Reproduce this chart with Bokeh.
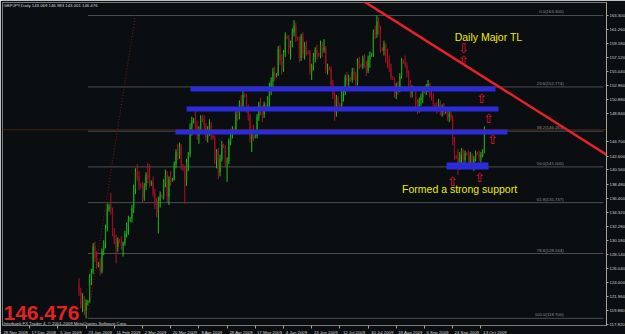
from bokeh.plotting import figure
from bokeh.models import (ColumnDataSource, Range1d, LinearAxis, FixedTicker, Label,
                          PrintfTickFormatter, Span)
from bokeh.embed import file_html
from bokeh.resources import INLINE
from bokeh.core.properties import value

# ---------------- data (GBPJPY daily, bar index 0 = 28 Nov 2008) ----------------
FIRST_BAR = 44
opens = [
    123.8, 122.6, 120.8, 121.6, 119.8,
    121.0, 121.2, 124.8, 125.5, 129.3, 127.6,
    126.6, 126.8, 125.6, 128.7, 129.8, 132.0,
    134.8, 135.2, 134.6, 131.2, 130.4, 129.2,
    130.2, 130.0, 129.4, 129.8, 131.2, 132.4,
    133.2, 133.4, 134.9, 137.8, 140.2, 139.6,
    138.2, 138.0, 136.4, 138.2, 139.8, 139.2,
    138.6, 138.8, 137.0, 135.4, 134.2, 136.0,
    136.8, 136.6, 138.6, 139.8, 136.6, 139.2,
    139.0, 139.2, 141.4, 143.2, 142.6, 144.0,
    141.2, 140.6, 138.8, 141.6, 142.8, 146.8,
    147.8, 148.0, 147.2, 145.6, 146.6,
    148.2, 148.0, 147.0, 145.4, 146.4, 147.2,
    145.6, 145.2, 142.0, 143.2, 140.2, 142.2,
    144.2, 144.0, 141.6, 141.8, 144.8, 145.8,
    146.6, 146.4, 148.8, 148.4, 150.4, 150.0,
    151.6, 151.4, 149.6, 148.4, 145.2, 146.0,
    145.4, 145.6, 148.4, 150.2, 149.4, 148.8,
    150.2, 150.0, 151.0, 152.8, 153.6, 155.0,
    154.4, 154.6, 158.4, 156.6, 155.4, 157.8,
    160.2, 160.0, 158.4, 159.2, 160.8, 161.8,
    160.0, 159.8, 157.0, 160.2, 157.6, 158.8,
    158.0, 157.8, 155.0, 155.8, 157.2, 158.2,
    157.6, 157.4, 159.0, 158.2, 158.6, 155.4,
    155.6, 155.4, 153.2, 151.6, 149.0, 151.0,
    150.2, 150.0, 151.8, 152.0, 154.2, 153.6,
    154.0, 153.8, 155.0, 154.6, 153.4, 156.6,
    156.0, 155.8, 157.0, 156.2, 155.2, 156.8,
    157.4, 157.6, 160.8, 160.6, 162.4, 161.0,
    158.4, 158.2, 159.0, 157.0, 156.8, 155.6,
    154.2, 154.0, 151.8, 153.0, 152.4, 154.4,
    156.6, 156.4, 156.0, 154.8, 153.4, 151.8,
    152.6, 152.4, 150.4, 149.6, 150.8, 151.2,
    152.2, 152.0, 152.8, 153.2, 151.6, 151.4,
    150.2, 150.0, 149.6, 150.4, 149.2, 149.6,
    149.0, 149.0, 148.4, 148.8, 148.2, 144.6,
    142.6, 142.4, 141.0, 142.8, 143.4, 142.0,
    143.0, 142.8, 141.6, 142.8, 141.4, 142.2,
    143.0, 142.9, 142.4, 142.8, 143.069,
]
highs = [
    124.6, 123.2, 122.4, 122.0, 121.5,
    121.4, 125.2, 126.0, 129.8, 130.0, 128.6,
    127.0, 127.5, 129.0, 130.2, 132.5, 135.6,
    135.5, 137.2, 135.0, 132.0, 131.0, 130.6,
    130.4, 130.8, 130.0, 131.6, 132.8, 133.8,
    133.6, 135.4, 138.4, 140.8, 141.4, 140.4,
    138.6, 138.8, 138.6, 140.2, 141.6, 141.4,
    139.0, 139.6, 137.8, 136.4, 136.6, 137.4,
    137.0, 139.2, 140.6, 140.4, 139.6, 140.4,
    139.4, 141.8, 143.6, 144.4, 144.6, 144.4,
    141.4, 141.2, 142.2, 143.2, 147.4, 148.4,
    148.2, 149.8, 147.8, 147.0, 148.6,
    148.6, 148.6, 147.4, 147.0, 148.0, 147.6,
    145.8, 145.6, 143.6, 143.8, 142.8, 144.8,
    144.4, 144.2, 142.4, 145.2, 146.6, 147.0,
    146.8, 149.2, 149.4, 150.8, 151.6, 152.4,
    151.8, 151.8, 150.2, 148.8, 146.6, 147.2,
    145.8, 148.8, 150.6, 151.2, 150.0, 150.6,
    150.4, 151.4, 153.4, 154.2, 155.6, 155.8,
    154.8, 158.8, 159.0, 157.6, 158.2, 160.8,
    160.4, 160.4, 159.6, 161.4, 162.6, 162.2,
    160.2, 160.2, 160.6, 160.8, 159.4, 159.6,
    158.2, 158.2, 156.2, 157.8, 158.6, 159.0,
    157.8, 159.6, 159.4, 159.8, 158.8, 156.2,
    155.8, 155.8, 153.8, 152.0, 151.6, 151.4,
    150.4, 152.2, 152.6, 154.6, 155.0, 154.6,
    154.2, 155.6, 155.6, 155.0, 157.0, 157.2,
    156.2, 157.4, 157.6, 156.6, 157.4, 158.0,
    157.8, 161.2, 161.8, 163.3, 163.0, 161.8,
    158.6, 159.6, 159.2, 158.4, 157.4, 156.2,
    154.4, 154.2, 153.4, 153.6, 154.8, 157.0,
    156.8, 157.4, 156.4, 155.2, 153.8, 153.0,
    152.8, 152.6, 151.0, 151.2, 151.8, 152.6,
    152.4, 153.2, 153.8, 153.4, 152.4, 151.8,
    150.4, 150.6, 151.0, 150.8, 150.2, 150.4,
    149.2, 149.6, 149.4, 149.2, 148.6, 145.4,
    142.8, 143.6, 143.2, 143.8, 143.6, 143.4,
    143.2, 143.4, 143.2, 143.0, 142.6, 143.4,
    143.2, 143.4, 143.2, 143.6, 146.983,
]
lows = [
    122.0, 120.2, 119.6, 119.2, 118.7,
    120.6, 121.0, 123.6, 125.2, 127.0, 126.0,
    126.2, 125.0, 125.3, 128.0, 129.0, 131.5,
    134.4, 134.0, 130.8, 129.6, 126.8, 128.5,
    129.8, 128.8, 127.8, 129.4, 130.6, 131.0,
    132.9, 132.8, 134.2, 137.0, 139.0, 137.6,
    137.8, 135.8, 136.0, 137.6, 138.6, 138.0,
    138.2, 136.6, 134.8, 133.6, 131.2, 135.0,
    136.4, 136.2, 138.0, 135.8, 135.4, 138.2,
    138.8, 139.0, 140.8, 142.0, 142.2, 140.6,
    140.4, 135.6, 138.2, 140.4, 142.4, 145.6,
    147.4, 146.6, 145.0, 144.4, 146.2,
    147.6, 146.4, 144.8, 144.6, 145.6, 145.0,
    145.0, 141.4, 140.8, 139.2, 139.6, 141.8,
    143.8, 141.0, 138.8, 141.4, 144.2, 145.2,
    146.2, 146.0, 147.8, 148.0, 149.4, 149.6,
    151.2, 149.0, 147.8, 144.6, 143.2, 144.8,
    145.2, 145.2, 147.8, 148.6, 147.6, 148.2,
    149.8, 149.6, 149.8, 151.6, 152.4, 153.6,
    154.2, 154.4, 156.0, 154.6, 155.0, 157.2,
    159.8, 157.6, 156.8, 158.6, 160.2, 159.4,
    159.6, 156.4, 156.6, 157.0, 156.8, 157.4,
    157.6, 154.6, 153.8, 155.2, 156.4, 156.8,
    157.2, 157.0, 157.2, 157.8, 154.8, 154.6,
    155.2, 152.6, 151.0, 147.8, 148.4, 149.4,
    149.8, 149.6, 150.6, 151.6, 153.0, 152.8,
    153.6, 153.4, 153.8, 152.8, 153.0, 155.4,
    155.6, 155.4, 155.6, 154.4, 154.8, 155.6,
    157.2, 157.2, 159.8, 160.0, 160.4, 157.8,
    158.0, 157.4, 156.4, 155.6, 155.0, 153.8,
    153.8, 151.2, 151.0, 151.6, 152.0, 154.0,
    156.2, 155.6, 154.2, 152.8, 151.2, 151.2,
    152.2, 149.8, 148.8, 149.0, 150.0, 150.4,
    151.8, 151.6, 152.0, 151.2, 150.8, 149.8,
    149.8, 148.8, 149.2, 148.6, 148.4, 148.6,
    148.8, 147.8, 147.6, 147.8, 144.2, 142.0,
    142.2, 139.8, 140.6, 141.6, 141.4, 141.6,
    142.6, 141.0, 141.2, 140.6, 140.4, 141.8,
    142.8, 141.8, 141.6, 142.4, 143.001,
]
closes = [
    122.6, 120.8, 121.6, 119.8, 121.0,
    121.2, 124.8, 125.5, 129.3, 127.6, 126.6,
    126.8, 125.6, 128.7, 129.8, 132.0, 134.8,
    135.2, 134.6, 131.2, 130.4, 129.2, 130.2,
    130.0, 129.4, 129.8, 131.2, 132.4, 133.2,
    133.4, 134.9, 137.8, 140.2, 139.6, 138.2,
    138.0, 136.4, 138.2, 139.8, 139.2, 138.6,
    138.8, 137.0, 135.4, 134.2, 136.0, 136.8,
    136.6, 138.6, 139.8, 136.6, 139.2, 139.0,
    139.2, 141.4, 143.2, 142.6, 144.0, 141.2,
    140.6, 138.8, 141.6, 142.8, 146.8, 147.8,
    148.0, 147.2, 145.6, 146.6, 148.2,
    148.0, 147.0, 145.4, 146.4, 147.2, 145.6,
    145.2, 142.0, 143.2, 140.2, 142.2, 144.2,
    144.0, 141.6, 141.8, 144.8, 145.8, 146.6,
    146.4, 148.8, 148.4, 150.4, 150.0, 151.6,
    151.4, 149.6, 148.4, 145.2, 146.0, 145.4,
    145.6, 148.4, 150.2, 149.4, 148.8, 150.2,
    150.0, 151.0, 152.8, 153.6, 155.0, 154.4,
    154.6, 158.4, 156.6, 155.4, 157.8, 160.2,
    160.0, 158.4, 159.2, 160.8, 161.8, 160.0,
    159.8, 157.0, 160.2, 157.6, 158.8, 158.0,
    157.8, 155.0, 155.8, 157.2, 158.2, 157.6,
    157.4, 159.0, 158.2, 158.6, 155.4, 155.6,
    155.4, 153.2, 151.6, 149.0, 151.0, 150.2,
    150.0, 151.8, 152.0, 154.2, 153.6, 154.0,
    153.8, 155.0, 154.6, 153.4, 156.6, 156.0,
    155.8, 157.0, 156.2, 155.2, 156.8, 157.4,
    157.6, 160.8, 160.6, 162.4, 161.0, 158.4,
    158.2, 159.0, 157.0, 156.8, 155.6, 154.2,
    154.0, 151.8, 153.0, 152.4, 154.4, 156.6,
    156.4, 156.0, 154.8, 153.4, 151.8, 152.6,
    152.4, 150.4, 149.6, 150.8, 151.2, 152.2,
    152.0, 152.8, 153.2, 151.6, 151.4, 150.2,
    150.0, 149.6, 150.4, 149.2, 149.6, 149.0,
    149.0, 148.4, 148.8, 148.2, 144.6, 142.6,
    142.4, 141.0, 142.8, 143.4, 142.0, 143.0,
    142.8, 141.6, 142.8, 141.4, 142.2, 143.0,
    142.9, 142.4, 142.8, 143.069, 146.476,
]
assert len(opens) == len(highs) == len(lows) == len(closes)
bars = list(range(FIRST_BAR, FIRST_BAR + len(opens)))

date_labels = ["28 Nov 2008", "17 Dec 2008", "5 Jan 2009", "23 Jan 2009", "11 Feb 2009",
               "2 Mar 2009", "20 Mar 2009", "8 Apr 2009", "28 Apr 2009", "17 May 2009",
               "4 Jun 2009", "23 Jun 2009", "12 Jul 2009", "30 Jul 2009", "18 Aug 2009",
               "6 Sep 2009", "24 Sep 2009", "13 Oct 2009"]
date_bars = [0, 16, 32, 48, 64, 80, 96, 112, 128, 144, 160, 176, 192, 208, 224, 240, 256, 272]

price_ticks = [163.300, 161.260, 159.180, 157.120, 155.040, 152.960, 150.880, 148.840,
               144.700, 142.600, 140.560, 138.480, 136.400, 134.320, 132.280, 130.180,
               128.140, 126.040, 124.000, 121.960, 119.880, 117.820]

# Fibonacci retracement (anchors: low bar / high bar)
fib_bars = [49, 76]
fib_prices = [118.70, 163.30]
fib_levels = [0.0, 23.6, 38.2, 50.0, 61.8, 78.6, 100.0]
fib_end_bar = 341.5
fib_label_bar = 318.9

# blue support / resistance zones
zone_left = [107.2, 105.0, 98.7, 252.5]
zone_right = [280.3, 282.0, 287.0, 276.3]
zone_bottom = [152.10, 149.16, 145.77, 140.60]
zone_top = [152.84, 149.90, 146.50, 141.65]

# major trend line
tl_bars = [200, 346]
tl_prices = [166.3, 142.36]

# arrows
arrow_bars = [272.3, 276.3, 278.6, 255.9, 271.2, 262.1, 262.1]
arrow_prices = [151.12, 148.17, 145.04, 138.85, 139.44, 158.44, 156.67]
arrow_chars = ["\u21e7", "\u21e7", "\u21e7", "\u21e7", "\u21e7", "\u21e9", "\u21e7"]

last_price = 146.476
header = "GBPJPY,Daily  143.069 146.983 143.001 146.476"

# ---------------- figure ----------------
BG = "#0b0e10"
PX_PER_BAR = 1.7625
FRAME_W, FRAME_H = 604, 323
x0 = 1.0 / PX_PER_BAR
x1 = (1.0 + FRAME_W) / PX_PER_BAR

p = figure(frame_width=FRAME_W, frame_height=FRAME_H, output_backend="svg",
           toolbar_location=None, x_range=Range1d(x0, x1), y_range=Range1d(117.645, 165.21),
           x_axis_location=None, y_axis_location=None,
           min_border_left=2, min_border_top=2, min_border_right=0, min_border_bottom=0,
           background_fill_color=BG, border_fill_color=BG, outline_line_color="#7a7a7a")
p.grid.visible = False

TINY = "4.3px"
FONT = value("Liberation Sans")

# right price axis
yax = LinearAxis(ticker=FixedTicker(ticks=price_ticks, minor_ticks=[]),
                 formatter=PrintfTickFormatter(format="%.3f"),
                 major_label_text_font_size=TINY, major_label_text_color="#d0d0d0",
                 major_label_text_font="Liberation Sans",
                 major_tick_out=2, major_tick_in=0, minor_tick_out=0, minor_tick_in=0,
                 major_label_standoff=1, axis_line_color="#a8a392",
                 major_tick_line_color="#a8a392")
p.add_layout(yax, "right")

# bottom date axis: tick marks at the label start (minor ticks), text centred after them
label_centers = [round(b + (2 + 2.2 * len(t) / 2) / PX_PER_BAR, 3)
                 for b, t in zip(date_bars, date_labels)]
xax = LinearAxis(ticker=FixedTicker(ticks=label_centers, minor_ticks=date_bars),
                 major_label_overrides={c: t for c, t in zip(label_centers, date_labels)},
                 major_label_text_font_size=TINY, major_label_text_color="#d0d0d0",
                 major_label_text_font="Liberation Sans",
                 major_tick_out=0, major_tick_in=0, minor_tick_out=3, minor_tick_in=0,
                 major_label_standoff=1, axis_line_color="#7a7a7a",
                 minor_tick_line_color="#a8a392")
p.add_layout(xax, "below")

# fibonacci
fib_hi, fib_lo = max(fib_prices), min(fib_prices)
fib_vals = [fib_hi - lv / 100.0 * (fib_hi - fib_lo) for lv in fib_levels]
fib_src = ColumnDataSource(dict(
    x0=[fib_bars[0]] * len(fib_levels), x1=[fib_end_bar] * len(fib_levels), y=fib_vals,
    lx=[fib_label_bar] * len(fib_levels),
    txt=["%.1f(%.3f)" % (lv, v) for lv, v in zip(fib_levels, fib_vals)]))
p.segment(x0="x0", y0="y", x1="x1", y1="y", source=fib_src, line_color="#4b4f53", line_width=1)
p.text(x="lx", y="y", text="txt", source=fib_src, text_font=FONT, text_font_size=TINY,
       text_color="#8e8e8e", text_align="right", text_baseline="bottom", y_offset=-1)
p.line(fib_bars, fib_prices, line_color="#8c1414", line_width=1, line_dash="1 2")

# bid line
p.add_layout(Span(location=last_price, dimension="width", line_color="#7c2a16",
                  line_width=1, line_dash="1 1"))

# candles
up = [c >= o for o, c in zip(opens, closes)]
src = ColumnDataSource(dict(
    x=bars, h=highs, l=lows,
    top=[max(o, c) for o, c in zip(opens, closes)],
    bottom=[min(o, c) for o, c in zip(opens, closes)],
    wick=["#20bf20" if u else "#b0122a" for u in up],
    body=["#159a15" if u else "#960c1f" for u in up]))
p.segment(x0="x", y0="l", x1="x", y1="h", source=src, line_color="wick", line_width=1)
p.vbar(x="x", width=0.7, top="top", bottom="bottom", source=src,
       fill_color="body", line_color=None)

# zones
p.quad(left=zone_left, right=zone_right, bottom=zone_bottom, top=zone_top,
       fill_color="#2b2bdc", line_color=None)

# trend line
p.line(tl_bars, tl_prices, line_color="#e8202c", line_width=2.5)

# arrows
p.text(x=arrow_bars, y=arrow_prices, text=arrow_chars, text_color="#e3132b",
       text_font=value("DejaVu Sans"), text_font_size="13px",
       text_align="center", text_baseline="middle")

# annotations
YEL = "#ecec00"
p.add_layout(Label(x=276.3, y=160.13, text="Daily Major TL", text_color=YEL,
                   text_font="Liberation Sans", text_font_size="10.5px",
                   text_align="center", text_baseline="middle"))
p.add_layout(Label(x=259.9, y=137.78, text="Formed a strong support", text_color=YEL,
                   text_font="Liberation Sans", text_font_size="10.5px",
                   text_align="center", text_baseline="middle"))
p.add_layout(Label(x=1.13, y=164.77, text=header, text_color="#d8d8d8",
                   text_font="Liberation Sans", text_font_size=TINY,
                   text_baseline="middle"))
p.add_layout(Label(x=1.13, y=119.48, text="%.3f" % last_price, text_color="#e02222",
                   text_font="Liberation Sans", text_font_size="21px", text_font_style="bold",
                   text_baseline="middle"))
p.add_layout(Label(x=1.13, y=118.01, text="Interbank FX Trader 4, \u00a9 2001-2009 MetaQuotes Software Corp.",
                   text_color="#cfcfcf", text_font="Liberation Sans", text_font_size=TINY,
                   text_baseline="middle"))
# current price box on the price scale
p.add_layout(Label(x=(610 - 1) / PX_PER_BAR, y=last_price, text="%.3f" % last_price,
                   text_color="#000000", text_font="Liberation Sans", text_font_size=TINY,
                   text_baseline="middle", background_fill_color="#ffffff"))

open("out.html", "w").write(file_html(p, INLINE))
